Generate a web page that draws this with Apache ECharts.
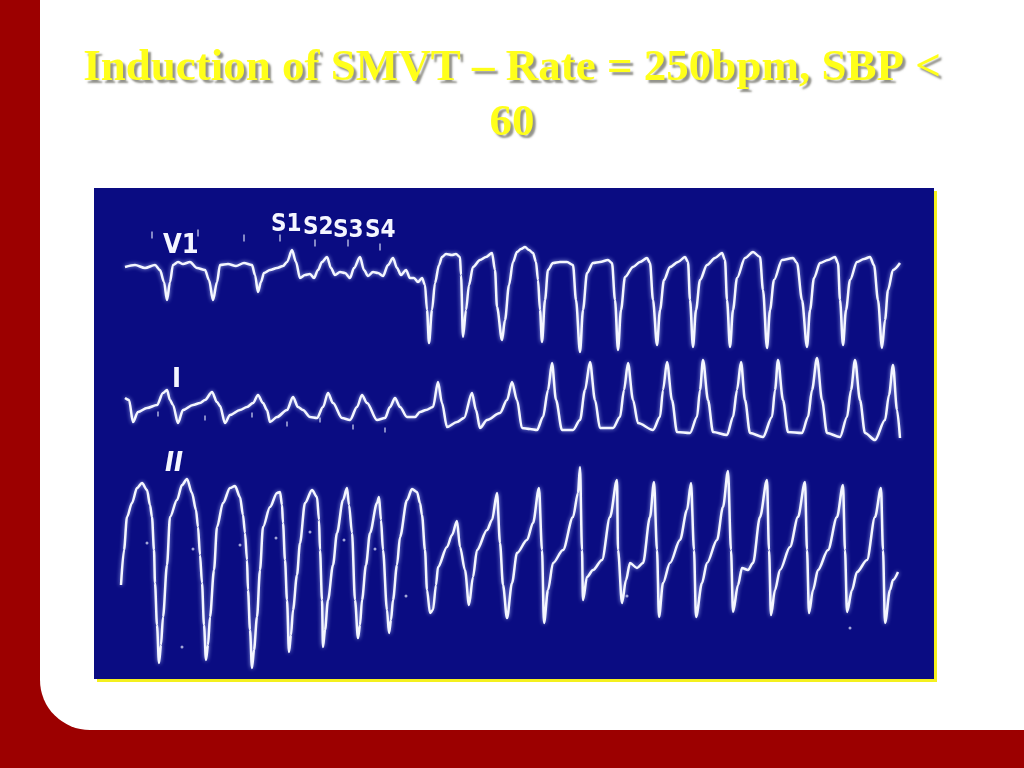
<!DOCTYPE html>
<html>
<head>
<meta charset="utf-8">
<script src="https://cdn.jsdelivr.net/npm/echarts/dist/echarts.min.js"></script>
<style>
html,body{margin:0;padding:0;background:#9c0000;}
#c{width:1024px;height:768px;}
</style>
</head>
<body>
<div id="c"></div>
<script>
// ---- text ----
const titleLines = ['Induction of SMVT \u2013 Rate = 250bpm, SBP <', '60'];
const leadNames = ['V1', 'I', 'II'];
const stimLabels = ['S1', 'S2', 'S3', 'S4'];

// ---- traces: [time, amplitude] read from the strip ----
const leadV1 = [
[31,0],[41,2],[51,-1],[61,2],[66,-3],[70,-15],[73,-33],[76,-15],[79,2],[84,5],[89,3],[96,5],[103,-1],[111,-3],[115,-13],[119,-33],[123,-15],[126,2],[134,3],[142,1],[150,4],[158,2],[161,-8],[164,-25],[167,-15],[170,-6],[176,-3],[183,-1],[189,1],[193,5],[198,17],[202,5],[206,-11],[211,-8],[216,-7],[220,-11],[224,-3],[228,5],[233,10],[237,-1],[241,-8],[246,-5],[251,-6],[256,-11],[260,-1],[266,10],[270,-3],[274,-9],[279,-5],[284,-6],[289,-9],[294,2],[299,9],[303,-1],[307,-8],[312,-3],[316,-11],[320,-11],[324,-15],[328,-11],[331,-18],[333,-43],[335,-76],[338,-43],[341,-16],[345,2],[348,10],[352,13],[358,12],[362,13],[366,10],[367,-8],[369,-70],[372,-43],[375,-18],[379,0],[386,7],[392,10],[398,14],[401,-3],[403,-40],[408,-73],[411,-53],[415,-18],[419,5],[423,15],[427,18],[431,20],[435,17],[439,14],[442,5],[444,-13],[446,-43],[448,-75],[451,-33],[454,-3],[459,4],[466,5],[473,5],[479,2],[482,-33],[486,-85],[489,-43],[493,-6],[499,4],[506,5],[514,7],[518,4],[521,-33],[524,-83],[527,-43],[531,-10],[539,0],[546,5],[553,9],[556,4],[559,-33],[563,-78],[566,-43],[570,-13],[576,0],[584,5],[591,10],[594,5],[596,-33],[599,-80],[602,-43],[606,-13],[613,2],[621,9],[628,14],[631,7],[633,-33],[636,-80],[639,-43],[643,-11],[651,9],[659,15],[666,10],[669,-23],[673,-81],[676,-43],[680,-13],[688,7],[699,9],[703,4],[708,-33],[713,-80],[716,-43],[720,-11],[726,4],[734,7],[741,10],[744,4],[746,-33],[749,-78],[752,-43],[756,-13],[763,5],[770,8],[776,10],[780,2],[784,-33],[788,-81],[791,-53],[794,-23],[799,-3],[806,4]
];
const leadI = [
[31,12],[35,10],[39,-12],[44,-2],[53,2],[63,5],[69,17],[73,20],[76,10],[79,5],[84,-13],[89,0],[99,5],[106,7],[111,10],[118,18],[123,8],[126,4],[131,-13],[136,-5],[146,0],[153,3],[159,7],[164,15],[169,7],[173,0],[176,-12],[183,-7],[193,0],[199,13],[204,3],[209,0],[216,-7],[223,-8],[229,3],[234,17],[239,7],[248,-8],[256,-10],[263,3],[268,15],[273,7],[283,-10],[291,-8],[296,3],[301,12],[306,3],[313,-7],[321,-7],[326,-2],[332,0],[339,3],[344,28],[348,7],[353,-17],[363,-12],[370,-8],[378,17],[382,0],[386,-18],[393,-10],[406,-3],[413,10],[418,28],[423,10],[428,-18],[436,-19],[443,-20],[449,-7],[454,20],[458,47],[462,10],[468,-20],[479,-20],[486,-10],[491,20],[496,48],[501,10],[506,-18],[519,-18],[526,-7],[530,20],[534,47],[539,10],[544,-13],[559,-20],[566,-7],[569,20],[573,48],[578,10],[583,-22],[596,-23],[603,-7],[606,20],[609,50],[614,10],[619,-22],[633,-25],[639,-7],[643,20],[647,48],[651,10],[656,-23],[669,-27],[678,-7],[681,20],[684,50],[689,10],[694,-22],[708,-23],[714,-7],[718,20],[723,52],[728,10],[733,-23],[746,-27],[753,-7],[757,20],[761,50],[766,10],[771,-23],[781,-30],[791,-10],[795,15],[799,45],[803,0],[806,-28]
];
const leadII = [
[27,-25],[30,10],[33,43],[38,57],[43,72],[48,77],[53,70],[56,55],[58,43],[60,10],[61,-23],[63,-65],[65,-103],[67,-85],[69,-57],[73,-5],[76,43],[83,60],[88,75],[93,81],[98,67],[102,50],[104,33],[106,5],[108,-23],[110,-65],[112,-100],[114,-85],[116,-57],[120,-10],[123,33],[129,57],[136,72],[141,74],[146,63],[149,45],[151,27],[153,0],[154,-30],[156,-70],[158,-108],[160,-90],[163,-57],[166,-10],[169,33],[176,53],[183,67],[186,68],[188,55],[189,37],[191,0],[193,-40],[195,-92],[197,-75],[199,-50],[203,-15],[206,17],[211,57],[218,70],[223,63],[225,40],[226,10],[228,-40],[229,-87],[231,-70],[234,-40],[239,-5],[243,27],[249,60],[253,72],[255,55],[258,27],[261,-40],[264,-78],[266,-65],[268,-40],[272,-5],[276,27],[283,57],[285,63],[287,40],[289,10],[293,-50],[295,-73],[297,-60],[299,-40],[303,-5],[306,23],[313,60],[318,71],[323,68],[326,57],[328,45],[331,10],[333,-30],[336,-53],[339,-50],[342,-25],[344,-7],[353,13],[358,25],[363,39],[366,13],[371,-10],[375,-45],[379,-17],[383,10],[393,30],[398,40],[403,67],[406,17],[409,-25],[413,-58],[418,-23],[423,7],[433,20],[439,37],[445,72],[448,10],[450,-63],[454,-30],[459,-3],[469,10],[479,43],[484,67],[486,93],[488,10],[489,-40],[493,-17],[499,-10],[508,0],[516,43],[523,80],[524,10],[528,-43],[532,-20],[536,-3],[543,-8],[549,-3],[556,43],[560,78],[563,10],[565,-57],[569,-23],[576,-3],[586,20],[593,50],[597,77],[600,10],[602,-57],[608,-23],[613,-3],[623,20],[629,53],[634,89],[637,10],[639,-52],[644,-25],[648,-8],[654,-10],[659,-3],[666,43],[673,80],[675,10],[677,-55],[681,-30],[686,-10],[696,13],[704,43],[711,78],[713,10],[715,-53],[719,-30],[724,-10],[734,10],[743,43],[749,75],[751,10],[753,-52],[758,-30],[763,-12],[773,0],[781,43],[787,72],[789,10],[791,-63],[796,-30],[799,-20],[804,-12]
];

// pacing-artefact ticks and dots on the strip
const stimV1 = [[58,32],[104,34],[150,29],[186,29],[221,24],[254,24],[286,20]];
const dotsI = [[64,-4],[111,-8],[158,-5],[193,-14],[226,-10],[259,-17],[291,-20]];
const dotsII = [[53,17],[88,-87],[99,11],[146,15],[182,22],[216,28],[250,20],[281,11],[312,-36],[533,-36],[756,-68]];

const chart = echarts.init(document.getElementById('c'));

const traceStyle = {
  color: '#f4f6ff', width: 2.5,
  shadowColor: 'rgba(185,200,255,0.8)', shadowBlur: 4
};
function trace(data, idx) {
  return {
    type: 'line', data: data, xAxisIndex: idx, yAxisIndex: idx,
    symbol: 'none', smooth: 0.3, smoothMonotone: 'x',
    lineStyle: traceStyle, silent: true, z: 3
  };
}
function marks(data, idx, sym, size) {
  return {
    type: 'scatter', data: data, xAxisIndex: idx, yAxisIndex: idx,
    symbol: sym, symbolSize: size, silent: true, z: 2,
    itemStyle: { color: 'rgba(235,240,255,0.85)' }
  };
}

const titleStyle = {
  fontFamily: 'Liberation Serif', fontWeight: 'bold', fontSize: 45,
  color: '#ffff1a', textShadowColor: 'rgba(110,110,100,0.75)',
  textShadowOffsetX: 3, textShadowOffsetY: 3, textShadowBlur: 2
};

const labelFont = 'bold 27px "DejaVu Sans Condensed", "DejaVu Sans", sans-serif';
const stimFont = 'bold 24px "DejaVu Sans Condensed", "DejaVu Sans", sans-serif';

chart.setOption({
  animation: false,
  backgroundColor: '#9c0000',
  title: [
    { text: titleLines[0], left: 'center', top: 41, textStyle: titleStyle },
    { text: titleLines[1], left: 'center', top: 96, textStyle: titleStyle }
  ],
  graphic: [
    { type: 'rect', shape: { x: 40, y: 0, width: 984, height: 730, r: [0, 0, 0, 50] }, style: { fill: '#ffffff' } },
    { type: 'rect', shape: { x: 97, y: 191, width: 840, height: 491 }, style: { fill: '#f4f01e' } },
    { type: 'rect', shape: { x: 94, y: 188, width: 840, height: 491 }, style: { fill: '#0a0c82' } },
    { type: 'text', left: 163, top: 232, style: { text: leadNames[0], fill: '#f4f6ff', font: labelFont } },
    { type: 'text', left: 172, top: 366, style: { text: leadNames[1], fill: '#f4f6ff', font: labelFont } },
    { type: 'text', left: 165, top: 450, style: { text: leadNames[2], fill: '#f4f6ff', font: 'italic ' + labelFont } },
    { type: 'text', left: 271, top: 213, style: { text: stimLabels[0], fill: '#f4f6ff', font: stimFont } },
    { type: 'text', left: 303, top: 216, style: { text: stimLabels[1], fill: '#f4f6ff', font: stimFont } },
    { type: 'text', left: 333, top: 219, style: { text: stimLabels[2], fill: '#f4f6ff', font: stimFont } },
    { type: 'text', left: 365, top: 219, style: { text: stimLabels[3], fill: '#f4f6ff', font: stimFont } }
  ],
  grid: [
    { left: 94, top: 217, width: 840, height: 140 },
    { left: 94, top: 350, width: 840, height: 100 },
    { left: 94, top: 460, width: 840, height: 220 }
  ],
  xAxis: [0, 1, 2].map(i => ({ gridIndex: i, type: 'value', min: 0, max: 840, show: false })),
  yAxis: [
    { gridIndex: 0, type: 'value', min: -90, max: 50, show: false },
    { gridIndex: 1, type: 'value', min: -40, max: 60, show: false },
    { gridIndex: 2, type: 'value', min: -120, max: 100, show: false }
  ],
  series: [
    trace(leadV1, 0),
    trace(leadI, 1),
    trace(leadII, 2),
    marks(stimV1, 0, 'rect', [1.6, 7]),
    marks(dotsI, 1, 'rect', [1.6, 5]),
    marks(dotsII, 2, 'circle', 3)
  ]
});
</script>
</body>
</html>
